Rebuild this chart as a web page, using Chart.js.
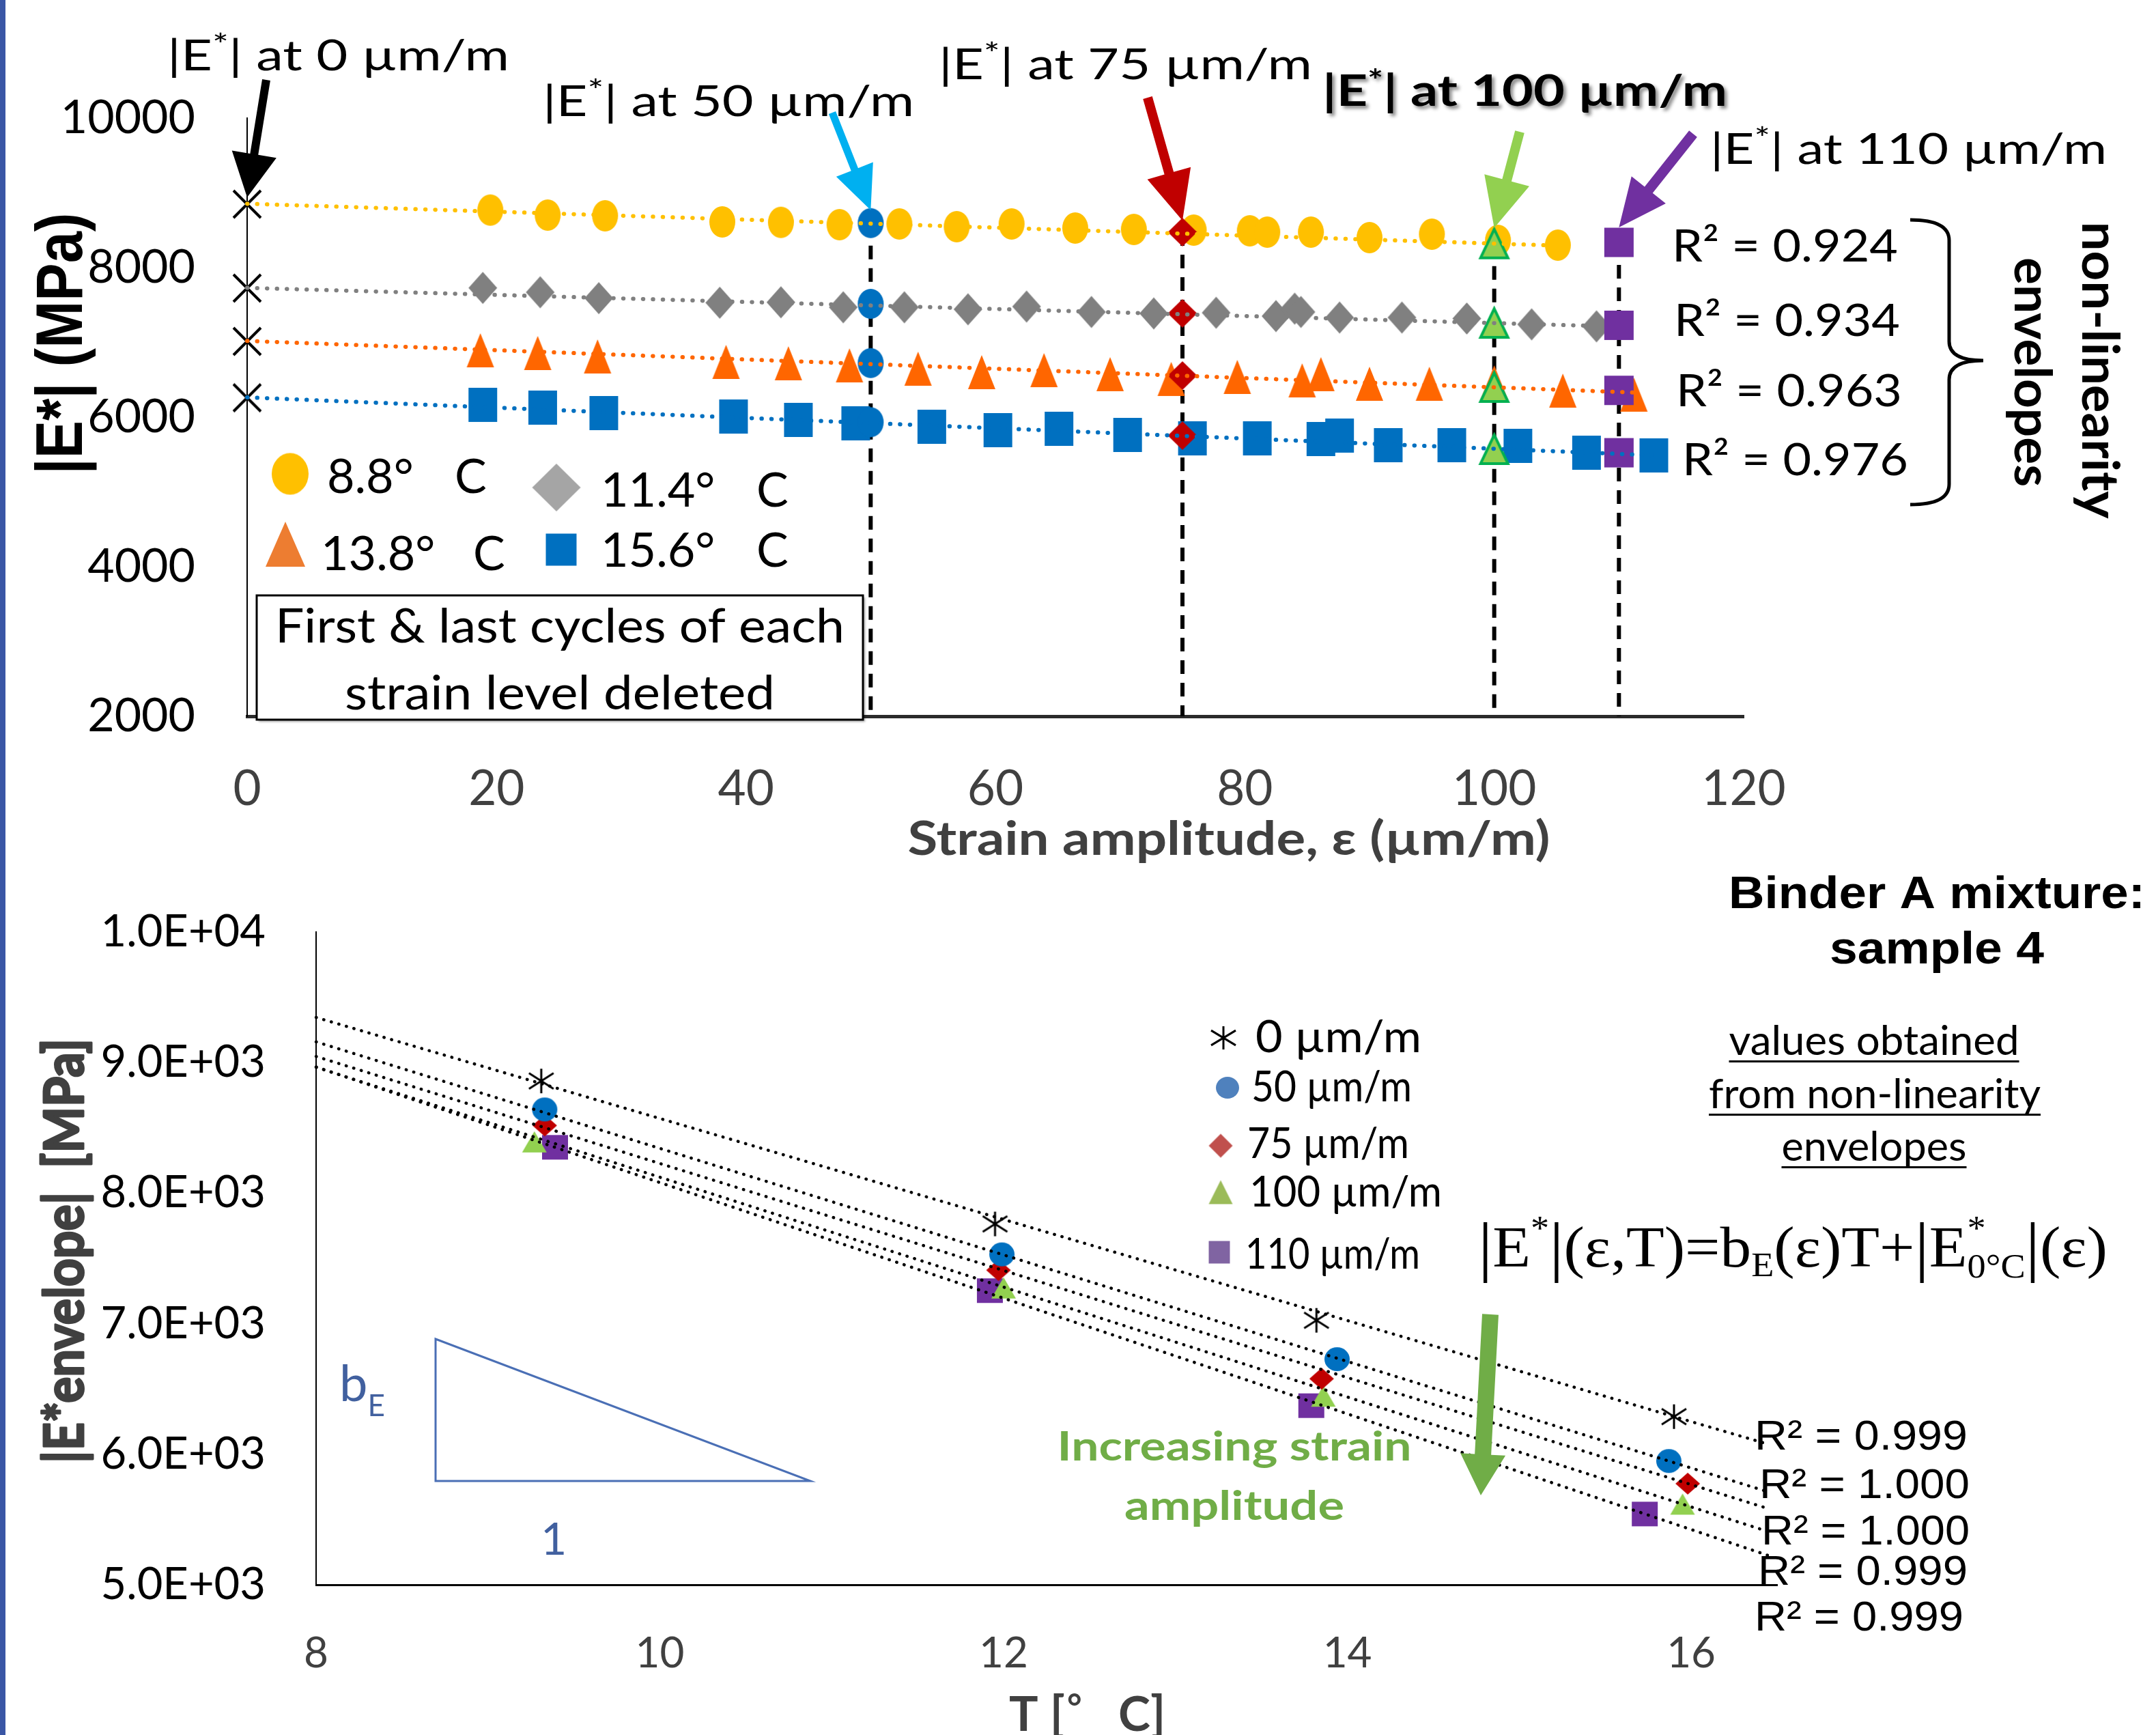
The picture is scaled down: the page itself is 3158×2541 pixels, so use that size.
<!DOCTYPE html>
<html>
<head>
<meta charset="utf-8">
<title>Binder A mixture: sample 4 - non-linearity envelopes</title>
<script src="https://cdn.jsdelivr.net/npm/chart.js@4.4.1/dist/chart.umd.min.js"></script>
<style>
  html, body { margin: 0; padding: 0; background: #fff; }
  #page { position: relative; width: 3158px; height: 2541px; overflow: hidden; background: #fff; }
  #page canvas { position: absolute; left: 0; top: 0; }
  #edge { position: absolute; left: 0; top: 0; width: 8px; height: 2541px; background: #3a56a5; }
</style>
</head>
<body>
<div id="page">
  <canvas id="strainChart" width="3158" height="2541"></canvas>
  <canvas id="tempChart" width="3158" height="2541"></canvas>
  <div id="edge"></div>
</div>
<script>
// ---------- top chart: |E*| against strain amplitude ----------
const tempLabels = ['8.8', '11.4', '13.8', '15.6'];

const strain88 = [19.5, 24.1, 28.7, 38.1, 42.8, 47.5, 52.3, 56.9, 61.3, 66.4, 71.1, 75.9, 80.4, 81.8, 85.3, 90.0, 95.0, 100.3, 105.1];
const modulus88 = [8770, 8703, 8694, 8612, 8606, 8575, 8585, 8548, 8585, 8530, 8511, 8502, 8493, 8475, 8475, 8402, 8448, 8365, 8301];

const strain114 = [18.9, 23.5, 28.2, 37.9, 42.8, 47.8, 52.7, 57.8, 62.5, 67.7, 72.7, 77.7, 82.5, 84.0, 84.5, 87.6, 92.6, 97.8, 103.0, 108.2];
const modulus114 = [7729, 7671, 7592, 7531, 7537, 7470, 7470, 7443, 7480, 7407, 7388, 7397, 7352, 7452, 7407, 7333, 7333, 7320, 7242, 7215];

const strain138 = [18.7, 23.3, 28.1, 38.4, 43.4, 48.3, 53.8, 58.9, 63.9, 69.2, 74.1, 79.4, 84.6, 86.1, 90.0, 94.8, 100.0, 105.5, 111.2];
const modulus138 = [6895, 6859, 6813, 6740, 6722, 6694, 6649, 6603, 6630, 6576, 6512, 6539, 6493, 6576, 6448, 6448, 6466, 6356, 6302];

const strain156 = [18.9, 23.7, 28.6, 39.0, 44.2, 48.8, 54.9, 60.2, 65.1, 70.6, 75.8, 81.0, 86.1, 87.6, 91.5, 96.6, 101.9, 107.4, 112.8];
const modulus156 = [6165, 6128, 6055, 6009, 5964, 5918, 5872, 5827, 5845, 5763, 5717, 5717, 5708, 5754, 5626, 5626, 5617, 5525, 5489];

// envelope value at 0 um/m (trend intercept)
const modulusAt0 = [8849, 7726, 7014, 6260];
// envelope values read at the marked strain levels
const markStrains = [50, 75, 100, 110];
const modulusAt50 = [8596, 7516, 6724, 5933];
const modulusAt75 = [8475, 7388, 6557, 5754];
const modulusAt100 = [8323, 7260, 6402, 5571];
const modulusAt110 = [8338, 7229, 6359, 5525];

// dotted linear trends, from 0 to the last cycle
const trendStart = [8855, 7730, 7020, 6265];
const trendEndStrain = [105.1, 108.2, 111.2, 112.8];
const trendEnd = [8295, 7220, 6330, 5490];
const r2Strain = ['0.924', '0.934', '0.963', '0.976'];

const strainTicks = [0, 20, 40, 60, 80, 100, 120];
const modulusTicks = [2000, 4000, 6000, 8000, 10000];

// ---------- bottom chart: envelope |E*| against temperature ----------
const envStrains = [0, 50, 75, 100, 110];
const temp0 = [9.31, 11.95, 13.82, 15.90];
const env0 = [8859, 7764, 7026, 6288];
const temp50 = [9.33, 11.99, 13.94, 15.87];
const env50 = [8641, 7531, 6728, 5948];
const temp75 = [9.33, 11.97, 13.85, 15.98];
const env75 = [8518, 7410, 6578, 5775];
const temp100 = [9.27, 12.00, 13.86, 15.95];
const env100 = [8393, 7274, 6445, 5618];
const temp110 = [9.39, 11.92, 13.79, 15.73];
const env110 = [8351, 7253, 6372, 5542];

const fitTemps = [8, 16.45];
const fit0 = [9346, 6076];
const fit50 = [9159, 5711];
const fit75 = [9047, 5583];
const fit100 = [8964, 5407];
const fit110 = [8967, 5224];
const r2Temp = ['0.999', '1.000', '1.000', '0.999', '0.999'];

const tempTicks = [8, 10, 12, 14, 16];
const envTicks = [5000, 6000, 7000, 8000, 9000, 10000];

Chart.defaults.font.family = 'Lato';

// marker sprites (the original markers are a little stretched, so draw them as w x h)
function marker(shape, w, h, fill, stroke, lw) {
  const c = document.createElement('canvas');
  const pad = (lw || 0) + 2;
  c.width = Math.ceil(w + 2 * pad);
  c.height = Math.ceil(h + 2 * pad);
  const g = c.getContext('2d');
  g.translate(c.width / 2, c.height / 2);
  g.beginPath();
  if (shape === 'circle') {
    g.ellipse(0, 0, w / 2, h / 2, 0, 0, Math.PI * 2);
  } else if (shape === 'diamond') {
    g.moveTo(0, -h / 2); g.lineTo(w / 2, 0); g.lineTo(0, h / 2); g.lineTo(-w / 2, 0); g.closePath();
  } else if (shape === 'triangle') {
    g.moveTo(0, -h / 2); g.lineTo(w / 2, h / 2); g.lineTo(-w / 2, h / 2); g.closePath();
  } else if (shape === 'square') {
    g.rect(-w / 2, -h / 2, w, h);
  } else if (shape === 'cross') {
    g.moveTo(-w / 2, -h / 2); g.lineTo(w / 2, h / 2);
    g.moveTo(w / 2, -h / 2); g.lineTo(-w / 2, h / 2);
  } else if (shape === 'star') {
    g.moveTo(0, -h / 2); g.lineTo(0, h / 2);
    g.moveTo(-w / 2, -h * 0.32); g.lineTo(w / 2, h * 0.32);
    g.moveTo(w / 2, -h * 0.32); g.lineTo(-w / 2, h * 0.32);
  }
  if (fill) { g.fillStyle = fill; g.fill(); }
  if (stroke) { g.strokeStyle = stroke; g.lineWidth = lw; g.stroke(); }
  return c;
}

function pts(xs, ys) {
  return xs.map((x, i) => ({ x: x, y: ys[i] }));
}

// text run helper: several fonts on one baseline, stretched to a width, optional rotation
function rich(ctx, runs, o) {
  ctx.save();
  let total = 0;
  runs.forEach(r => {
    ctx.font = r.font || o.font;
    r.w = ctx.measureText(r.t).width;
    if (r.adv !== 0) total += r.w;
  });
  const sx = o.width ? o.width / total : 1;
  ctx.translate(o.x, o.y);
  if (o.rotate) ctx.rotate(o.rotate);
  ctx.scale(sx, 1);
  if (o.shadow) {
    ctx.shadowColor = o.shadow; ctx.shadowOffsetX = 4; ctx.shadowOffsetY = 4; ctx.shadowBlur = 5;
  }
  ctx.textAlign = 'left';
  ctx.textBaseline = 'alphabetic';
  const x0 = o.align === 'center' ? -total / 2 : 0;
  let cx = x0;
  runs.forEach(r => {
    ctx.font = r.font || o.font;
    ctx.fillStyle = r.color || o.color || '#000';
    ctx.fillText(r.t, cx, r.dy || 0);
    if (o.thick) {
      ctx.strokeStyle = r.color || o.color || '#000';
      ctx.lineWidth = o.thick;
      ctx.lineJoin = 'round';
      ctx.strokeText(r.t, cx, r.dy || 0);
    }
    if (r.adv !== 0) cx += r.w;
  });
  if (o.underline) {
    ctx.shadowColor = 'transparent';
    ctx.fillStyle = o.color || '#000';
    ctx.fillRect(x0, o.underline, total, 3);
  }
  ctx.restore();
}

function text(ctx, str, x, y, font, width, extra) {
  rich(ctx, [{ t: str }], Object.assign({ x: x, y: y, font: font, width: width }, extra || {}));
}

function arrow(ctx, x1, y1, x2, y2, color, shaft, headW, headL) {
  const a = Math.atan2(y2 - y1, x2 - x1);
  const len = Math.hypot(x2 - x1, y2 - y1);
  ctx.save();
  ctx.translate(x1, y1);
  ctx.rotate(a);
  ctx.fillStyle = color;
  ctx.beginPath();
  ctx.moveTo(0, -shaft / 2);
  ctx.lineTo(len - headL, -shaft / 2);
  ctx.lineTo(len - headL, -headW / 2);
  ctx.lineTo(len, 0);
  ctx.lineTo(len - headL, headW / 2);
  ctx.lineTo(len - headL, shaft / 2);
  ctx.lineTo(0, shaft / 2);
  ctx.closePath();
  ctx.fill();
  ctx.restore();
}

function sprite(ctx, img, x, y) {
  ctx.drawImage(img, x - img.width / 2, y - img.height / 2);
}

// ---------- top chart datasets ----------
const seriesStrain = [strain88, strain114, strain138, strain156];
const seriesModulus = [modulus88, modulus114, modulus138, modulus156];
const seriesColor = ['#FFC000', '#808080', '#FF6600', '#0070C0'];
const seriesMarker = [
  marker('circle', 38, 46, '#FFC000'),
  marker('diamond', 42, 47, '#808080'),
  marker('triangle', 40, 50, '#FF6600'),
  marker('square', 42, 50, '#0070C0')
];
const markValues = [modulusAt50, modulusAt75, modulusAt100, modulusAt110];
const markSprites = [
  marker('circle', 38, 44, '#0070C0'),
  marker('diamond', 43, 42, '#C00000'),
  marker('triangle', 40, 42, '#92D050', '#00B050', 4),
  marker('square', 43, 43, '#7030A0')
];

const strainSets = [];
markStrains.forEach((s, k) => {
  strainSets.push({
    data: [{ x: s, y: markValues[k][0] }, { x: s, y: modulusTicks[0] }],
    showLine: true, borderColor: '#000', borderWidth: 6, borderDash: [20, 13],
    pointRadius: 0, order: 4, clip: false
  });
});
seriesStrain.forEach((xs, i) => {
  strainSets.push({
    data: pts(xs, seriesModulus[i]), pointStyle: seriesMarker[i], pointRadius: 12,
    showLine: false, order: 3, clip: false
  });
});
strainSets.push({
  data: modulusAt0.map(v => ({ x: 0, y: v })),
  pointStyle: marker('cross', 40, 40, null, '#000', 4), pointRadius: 12,
  showLine: false, order: 2, clip: false
});
markStrains.forEach((s, k) => {
  strainSets.push({
    data: markValues[k].map(v => ({ x: s, y: v })),
    pointStyle: markSprites[k], pointRadius: 12, showLine: false, order: 1, clip: false
  });
});
seriesColor.forEach((c, i) => {
  strainSets.push({
    data: [{ x: 0, y: trendStart[i] }, { x: trendEndStrain[i], y: trendEnd[i] }],
    showLine: true, borderColor: c, borderWidth: 6, borderDash: [0.5, 14], borderCapStyle: 'round',
    pointRadius: 0, order: 0, clip: false
  });
});

const strainNotes = {
  id: 'strainNotes',
  afterDraw(chart) {
    const ctx = chart.ctx;
    const px = v => chart.scales.x.getPixelForValue(v);
    const py = v => chart.scales.y.getPixelForValue(v);
    const f = '62px Lato', sup = '44px Lato';
    const eLabel = (s, x, y, w, font, supFont, shadow) => rich(ctx, [
      { t: '|E' }, { t: '*', font: supFont || sup, dy: -22 }, { t: '| at ' + s + ' µm/m' }
    ], { x: x, y: y, width: w, font: font || f, shadow: shadow });

    // labels and arrows
    eLabel(envStrains[0], 245, 103, 501);
    eLabel(markStrains[0], 795, 170, 544);
    eLabel(markStrains[1], 1375, 116, 547);
    eLabel(markStrains[2], 1937, 155, 593, 'bold 64px Lato', 'bold 44px Lato', 'rgba(0,0,0,0.45)');
    eLabel(markStrains[3], 2505, 240, 581);
    arrow(ctx, 390, 117, px(0), py(modulusAt0[0]) - 10, '#000', 12, 66, 64);
    arrow(ctx, 1219, 165, px(markStrains[0]), py(modulusAt50[0]) - 19, '#00B0F0', 11, 58, 64);
    arrow(ctx, 1681, 143, px(markStrains[1]), py(modulusAt75[0]) - 17, '#C00000', 14, 66, 72);
    arrow(ctx, 2226, 193, px(markStrains[2]), py(modulusAt100[0]) - 23, '#92D050', 14, 68, 72);
    arrow(ctx, 2480, 196, px(markStrains[3]), py(modulusAt110[0]) - 22, '#7030A0', 15, 64, 70);

    // R² of the envelopes
    const r2x = [2449, 2452, 2455, 2464], r2y = [383, 492, 595, 696];
    r2Strain.forEach((r, i) => text(ctx, 'R² = ' + r, r2x[i], r2y[i], '66px Lato', 331));

    // brace + rotated caption
    ctx.save();
    ctx.strokeStyle = '#000'; ctx.lineWidth = 5;
    ctx.beginPath();
    ctx.moveTo(2798, 322);
    ctx.quadraticCurveTo(2855, 322, 2855, 352);
    ctx.lineTo(2855, 500);
    ctx.quadraticCurveTo(2855, 528, 2905, 528);
    ctx.quadraticCurveTo(2855, 528, 2855, 556);
    ctx.lineTo(2855, 709);
    ctx.quadraticCurveTo(2855, 739, 2798, 739);
    ctx.stroke();
    ctx.restore();
    rich(ctx, [{ t: 'non-linearity' }], { x: 3050, y: 542, width: 435, font: 'bold 74px Lato', align: 'center', rotate: Math.PI / 2 });
    rich(ctx, [{ t: 'envelopes' }], { x: 2951, y: 545, width: 336, font: 'bold 74px Lato', align: 'center', rotate: Math.PI / 2 });

    // legend
    const legMarks = [
      marker('circle', 54, 61, '#FFC000'),
      marker('diamond', 71, 70, '#A5A5A5'),
      marker('triangle', 58, 66, '#ED7D31'),
      marker('square', 45, 47, '#0070C0')
    ];
    const leg = [
      { mx: 425, my: 694, tx: 479, ty: 722, cx: 666 },
      { mx: 815, my: 714, tx: 880, ty: 742, cx: 1108 },
      { mx: 418, my: 797, tx: 470, ty: 835, cx: 693 },
      { mx: 822, my: 805, tx: 880, ty: 830, cx: 1108 }
    ];
    leg.forEach((p, i) => {
      sprite(ctx, legMarks[i], p.mx, p.my);
      text(ctx, tempLabels[i] + '°', p.tx, p.ty, '70px Lato');
      text(ctx, 'C', p.cx, p.ty, '70px Lato');
    });

    // note box
    ctx.save();
    ctx.shadowColor = 'rgba(0,0,0,0.35)'; ctx.shadowOffsetX = 3; ctx.shadowOffsetY = 3; ctx.shadowBlur = 3;
    ctx.fillStyle = '#fff';
    ctx.fillRect(376, 872, 888, 182);
    ctx.shadowColor = 'transparent';
    ctx.strokeStyle = '#000'; ctx.lineWidth = 3;
    ctx.strokeRect(376, 872, 888, 182);
    ctx.restore();
    text(ctx, 'First & last cycles of each', 820, 941, '70px Lato', 834, { align: 'center' });
    text(ctx, 'strain level deleted', 820, 1039, '70px Lato', 630, { align: 'center' });

    // axis titles
    rich(ctx, [{ t: '|E*| (MPa)' }], { x: 120, y: 503, width: 383, font: 'bold 96px "Liberation Sans"', align: 'center', rotate: -Math.PI / 2 });
    text(ctx, 'Strain amplitude, ε (µm/m)', 1800, 1252, 'bold 68px Lato', 941, { align: 'center', color: '#404040' });
  }
};

new Chart(document.getElementById('strainChart'), {
  type: 'scatter',
  data: { datasets: strainSets },
  options: {
    responsive: false,
    animation: false,
    devicePixelRatio: 1,
    events: [],
    layout: { padding: { left: 0, top: 173, right: 604, bottom: 1241 } },
    scales: {
      x: {
        type: 'linear', min: 0, max: 120,
        afterFit: s => { s.height = 251; },
        afterBuildTicks: s => { s.ticks = strainTicks.map(v => ({ value: v })); },
        grid: { display: false, drawTicks: false },
        border: { display: true, color: '#2b2b2b', width: 5 },
        ticks: { color: '#404040', font: { family: 'Lato', size: 71 }, padding: 65, maxRotation: 0, callback: v => String(v) }
      },
      y: {
        type: 'linear', min: 2000, max: 10000,
        afterFit: s => { s.width = 362; },
        afterBuildTicks: s => { s.ticks = modulusTicks.map(v => ({ value: v })); },
        grid: { display: false, drawTicks: false },
        border: { display: true, color: '#000', width: 2 },
        ticks: { color: '#000', font: { family: 'Lato', size: 68 }, padding: 76, callback: v => String(v) }
      }
    },
    plugins: { legend: { display: false }, tooltip: { enabled: false } }
  },
  plugins: [strainNotes]
});

// ---------- bottom chart datasets ----------
const envTempsList = [temp0, temp50, temp75, temp100, temp110];
const envValsList = [env0, env50, env75, env100, env110];
const fitList = [fit0, fit50, fit75, fit100, fit110];
const envSprites = [
  marker('star', 36, 36, null, '#000', 3),
  marker('circle', 37, 35, '#0070C0'),
  marker('diamond', 36, 32, '#C00000'),
  marker('triangle', 36, 31, '#92D050'),
  marker('square', 38, 36, '#7030A0')
];
const tempSets = [];
envTempsList.forEach((xs, i) => {
  tempSets.push({
    data: pts(xs, envValsList[i]), pointStyle: envSprites[i], pointRadius: 12,
    showLine: false, order: 1, clip: false
  });
});
fitList.forEach(fv => {
  tempSets.push({
    data: pts(fitTemps, fv), showLine: true, borderColor: '#000', borderWidth: 4.5,
    borderDash: [0.5, 11], borderCapStyle: 'round', pointRadius: 0, order: 0, clip: false
  });
});

const tempNotes = {
  id: 'tempNotes',
  afterDraw(chart) {
    const ctx = chart.ctx;

    text(ctx, 'Binder A mixture:', 2837, 1330, 'bold 67px "Liberation Sans"', 610, { align: 'center' });
    text(ctx, 'sample 4', 2837, 1411, 'bold 67px "Liberation Sans"', 314, { align: 'center' });

    text(ctx, 'values obtained', 2745, 1545, '60px Lato', 425, { align: 'center', underline: 8 });
    text(ctx, 'from non-linearity', 2746, 1623, '60px Lato', 486, { align: 'center', underline: 8 });
    text(ctx, 'envelopes', 2745, 1700, '60px Lato', 271, { align: 'center', underline: 8 });

    // legend
    const legSprites = [
      marker('star', 36, 34, null, '#000', 3),
      marker('circle', 34, 32, '#4F81BD'),
      marker('diamond', 35, 35, '#C0504D'),
      marker('triangle', 35, 35, '#9BBB59'),
      marker('square', 31, 33, '#8064A2')
    ];
    const leg = [
      { mx: 1792, my: 1520, tx: 1839, ty: 1541, w: 243, f: '66px Lato' },
      { mx: 1798, my: 1593, tx: 1833, ty: 1613, w: 235, f: '61px Lato' },
      { mx: 1788, my: 1678, tx: 1827, ty: 1696, w: 237, f: '61px Lato' },
      { mx: 1788, my: 1746, tx: 1830, ty: 1767, w: 282, f: '61px Lato' },
      { mx: 1786, my: 1834, tx: 1824, ty: 1858, w: 256, f: '61px Lato' }
    ];
    leg.forEach((p, i) => {
      sprite(ctx, legSprites[i], p.mx, p.my);
      text(ctx, envStrains[i] + ' µm/m', p.tx, p.ty, p.f, p.w);
    });

    // equation, with tall bars
    const ef = '84px "Liberation Serif"', es = '50px "Liberation Serif"';
    const bar = { t: '|', font: '98px "Liberation Serif"', dy: 3 };
    rich(ctx, [
      Object.assign({}, bar), { t: 'E' }, { t: '*', font: es, dy: -40 }, Object.assign({}, bar),
      { t: '(ε,T)=b' }, { t: 'E', font: es, dy: 14 }, { t: '(ε)T+' }, Object.assign({}, bar),
      { t: 'E' }, { t: '*', font: es, dy: -40, adv: 0 }, { t: '0°C', font: es, dy: 16 },
      Object.assign({}, bar), { t: '(ε)' }
    ], { x: 2165, y: 1855, width: 922, font: ef });

    // increasing strain arrow
    arrow(ctx, 2183, 1925, 2169, 2190, '#70AD47', 24, 66, 60);
    text(ctx, 'Increasing strain', 1808, 2139, 'bold 60px Lato', 519, { align: 'center', color: '#70AD47' });
    text(ctx, 'amplitude', 1808, 2226, 'bold 60px Lato', 322, { align: 'center', color: '#70AD47' });

    // slope triangle
    ctx.save();
    ctx.strokeStyle = '#4A6FB5'; ctx.lineWidth = 3;
    ctx.beginPath();
    ctx.moveTo(638, 1961); ctx.lineTo(638, 2169); ctx.lineTo(1187, 2169); ctx.closePath();
    ctx.stroke();
    ctx.restore();
    rich(ctx, [{ t: 'b' }, { t: 'E', font: '44px Lato', dy: 22 }], { x: 497, y: 2052, font: '74px Lato', color: '#41609F' });
    text(ctx, '1', 792, 2277, '66px Lato', null, { color: '#41609F' });

    // R² of the fits
    const r2x = [2570, 2577, 2580, 2575, 2570], r2y = [2123, 2194, 2262, 2321, 2388], r2w = [312, 308, 305, 307, 306];
    r2Temp.forEach((r, i) => text(ctx, 'R² = ' + r, r2x[i], r2y[i], '61px "Liberation Sans"', r2w[i]));

    // axis titles
    rich(ctx, [{ t: '|E*envelope|  [MPa]' }], { x: 122, y: 1832, width: 622, font: 'bold 80px Lato', align: 'center', rotate: -Math.PI / 2, color: '#404040', thick: 3 });
    text(ctx, 'T [', 1478, 2535, 'bold 71px Lato', null, { color: '#404040' });
    text(ctx, '°', 1563, 2518, 'bold 52px Lato', null, { color: '#404040' });
    text(ctx, 'C]', 1638, 2535, 'bold 71px Lato', null, { color: '#404040' });
  }
};

new Chart(document.getElementById('tempChart'), {
  type: 'scatter',
  data: { datasets: tempSets },
  options: {
    responsive: false,
    animation: false,
    devicePixelRatio: 1,
    events: [],
    layout: { padding: { left: 0, top: 1365, right: 555, bottom: 0 } },
    scales: {
      x: {
        type: 'linear', min: 8, max: 16.5,
        afterFit: s => { s.height = 220; },
        afterBuildTicks: s => { s.ticks = tempTicks.map(v => ({ value: v })); },
        grid: { display: false, drawTicks: false },
        border: { display: true, color: '#000', width: 3 },
        ticks: { color: '#404040', font: { family: 'Lato', size: 62 }, padding: 64, maxRotation: 0, callback: v => String(v) }
      },
      y: {
        type: 'linear', min: 5000, max: 10000,
        afterFit: s => { s.width = 463; },
        afterBuildTicks: s => { s.ticks = envTicks.map(v => ({ value: v })); },
        grid: { display: false, drawTicks: false },
        border: { display: true, color: '#000', width: 2 },
        ticks: {
          color: '#000', font: { family: 'Lato', size: 65 }, padding: 74,
          callback: v => {
            const e = Math.floor(Math.log10(v));
            return (v / Math.pow(10, e)).toFixed(1) + 'E+' + String(e).padStart(2, '0');
          }
        }
      }
    },
    plugins: { legend: { display: false }, tooltip: { enabled: false } }
  },
  plugins: [tempNotes]
});
</script>
</body>
</html>
